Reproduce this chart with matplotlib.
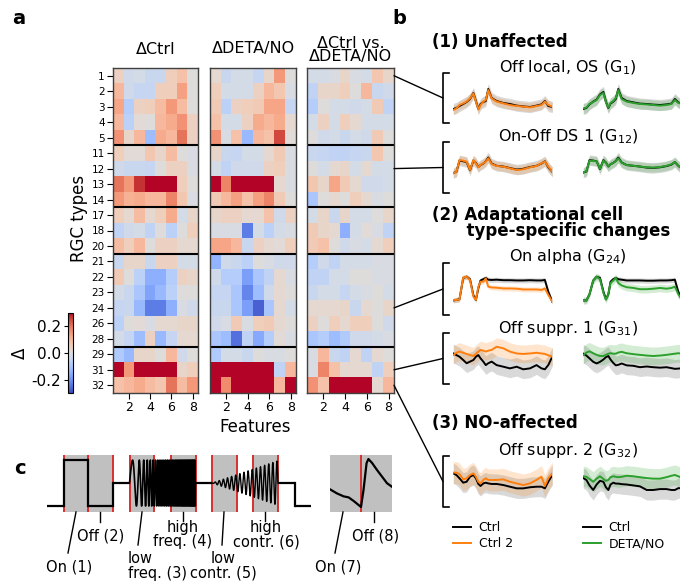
import numpy as np
import matplotlib
matplotlib.use('Agg')
import matplotlib.pyplot as plt
from matplotlib.patches import ConnectionPatch
from matplotlib.lines import Line2D

plt.rcParams['font.family'] = ['DejaVu Sans']
plt.rcParams['axes.unicode_minus'] = False

# ---------------- data: panel a ----------------
rgc_types = [1, 2, 3, 4, 5, 11, 12, 13, 14, 17, 18, 20, 21, 22, 23, 24, 26, 28, 29, 31, 32]
group_sizes = [5, 4, 3, 6, 3]
feature_ticks = [2, 4, 6, 8]
panel_titles = ['ΔCtrl', 'ΔDETA/NO', 'ΔCtrl vs.\nΔDETA/NO']

delta_ctrl = [
    [0.04, -0.03, -0.02, -0.04, -0.04, 0.05, 0.08, 0.00],
    [0.10, -0.03, -0.05, -0.05, 0.05, 0.05, 0.14, 0.00],
    [0.13, -0.08, 0.04, 0.05, 0.09, 0.15, 0.09, 0.00],
    [0.10, -0.07, 0.01, 0.00, 0.10, 0.12, 0.16, 0.04],
    [0.16, 0.03, 0.10, -0.12, 0.12, 0.10, 0.20, 0.04],
    [0.05, 0.01, 0.01, 0.07, 0.03, 0.09, 0.00, -0.01],
    [-0.03, -0.04, -0.04, -0.05, 0.00, 0.04, 0.04, -0.01],
    [0.20, 0.15, 0.27, 0.35, 0.35, 0.35, 0.05, 0.00],
    [0.15, 0.11, 0.12, 0.10, 0.10, 0.18, 0.07, -0.01],
    [0.05, 0.02, 0.09, 0.02, 0.05, 0.12, -0.02, 0.03],
    [-0.06, -0.03, -0.02, -0.06, 0.00, -0.07, 0.00, 0.05],
    [0.09, 0.05, 0.10, 0.00, 0.04, 0.04, 0.02, 0.02],
    [-0.04, 0.03, 0.03, -0.04, 0.04, 0.04, -0.02, -0.02],
    [0.06, 0.00, -0.07, -0.15, -0.15, -0.08, 0.04, 0.03],
    [-0.02, -0.04, -0.10, -0.17, -0.13, -0.07, 0.00, 0.00],
    [-0.05, -0.04, -0.13, -0.23, -0.23, -0.15, -0.01, -0.03],
    [-0.07, 0.00, 0.01, -0.01, 0.02, 0.02, 0.03, 0.03],
    [-0.02, -0.05, -0.12, 0.04, -0.13, -0.05, 0.02, 0.02],
    [-0.09, -0.13, 0.03, 0.03, 0.00, 0.10, -0.03, 0.00],
    [0.35, 0.15, 0.35, 0.35, 0.35, 0.35, 0.03, 0.05],
    [0.08, 0.10, 0.12, 0.09, 0.07, 0.20, 0.09, 0.15],
]

delta_deta = [
    [0.02, -0.04, -0.02, -0.02, -0.05, 0.03, 0.15, 0.00],
    [0.05, -0.02, -0.02, -0.02, 0.04, 0.10, 0.07, -0.01],
    [0.06, -0.07, 0.04, 0.05, 0.06, 0.13, 0.13, -0.05],
    [0.08, -0.02, -0.02, 0.04, 0.12, 0.10, 0.12, 0.02],
    [0.16, -0.01, 0.08, -0.13, 0.10, 0.08, 0.25, 0.01],
    [0.03, -0.04, -0.05, -0.02, -0.02, 0.02, 0.06, -0.01],
    [-0.02, -0.06, -0.03, -0.03, -0.03, 0.04, 0.05, -0.01],
    [0.35, 0.18, 0.35, 0.35, 0.35, 0.35, 0.02, -0.01],
    [0.06, 0.10, 0.14, 0.08, 0.14, 0.18, 0.06, 0.00],
    [0.03, 0.04, 0.04, 0.02, 0.02, 0.08, -0.03, 0.04],
    [-0.01, -0.01, -0.01, -0.23, -0.02, -0.07, -0.02, -0.01],
    [0.13, 0.13, 0.10, -0.04, 0.04, 0.02, 0.01, 0.05],
    [-0.14, -0.03, -0.04, -0.07, 0.00, -0.01, -0.03, -0.03],
    [-0.03, -0.08, -0.08, -0.18, -0.10, -0.06, 0.02, -0.01],
    [-0.05, -0.05, -0.10, -0.22, -0.12, -0.03, 0.02, 0.00],
    [-0.04, -0.04, -0.10, -0.18, -0.27, -0.10, 0.02, -0.02],
    [-0.03, -0.01, 0.06, -0.01, 0.05, 0.06, 0.02, 0.00],
    [-0.10, -0.12, -0.25, -0.06, -0.16, -0.08, 0.01, -0.01],
    [-0.09, -0.02, -0.02, -0.04, 0.00, -0.01, -0.01, 0.00],
    [0.30, 0.35, 0.35, 0.35, 0.35, 0.35, -0.06, 0.10],
    [0.30, 0.17, 0.35, 0.35, 0.35, 0.35, 0.10, 0.35],
]

delta_diff = [
    [-0.02, -0.02, -0.01, 0.03, -0.01, -0.02, 0.07, 0.03],
    [-0.06, 0.03, 0.03, 0.05, 0.00, 0.10, -0.04, -0.03],
    [-0.08, 0.00, -0.02, -0.02, -0.03, -0.02, 0.06, -0.06],
    [-0.02, 0.04, -0.02, 0.05, 0.02, -0.02, -0.02, -0.02],
    [0.00, -0.03, -0.02, -0.04, -0.02, -0.03, 0.06, 0.00],
    [-0.04, -0.05, -0.06, -0.06, -0.05, -0.04, 0.07, 0.00],
    [0.00, -0.02, 0.02, 0.03, -0.02, 0.02, -0.02, -0.02],
    [0.07, 0.03, 0.13, 0.06, 0.02, -0.03, -0.03, -0.02],
    [-0.10, 0.00, 0.02, 0.00, 0.05, 0.02, -0.01, 0.00],
    [-0.02, 0.03, -0.04, 0.03, -0.02, -0.02, 0.00, 0.03],
    [0.06, 0.03, 0.02, -0.15, -0.02, 0.01, -0.01, -0.06],
    [0.06, 0.08, 0.00, -0.03, -0.01, -0.02, 0.02, 0.05],
    [-0.08, -0.03, -0.06, -0.02, -0.02, -0.02, -0.01, -0.01],
    [-0.06, -0.06, -0.02, -0.02, 0.00, 0.00, -0.01, -0.01],
    [-0.04, -0.02, -0.02, -0.05, -0.02, -0.01, 0.00, -0.02],
    [0.02, 0.02, 0.02, 0.03, -0.04, 0.02, 0.00, 0.03],
    [0.04, 0.00, 0.05, 0.02, 0.05, 0.05, 0.00, -0.03],
    [-0.10, -0.08, -0.12, -0.09, -0.03, -0.03, -0.02, -0.01],
    [-0.01, 0.10, -0.04, -0.06, 0.02, -0.06, 0.02, 0.00],
    [-0.01, 0.18, 0.08, 0.02, 0.02, 0.02, -0.06, 0.05],
    [0.16, 0.08, 0.35, 0.35, 0.35, 0.35, 0.02, 0.10],
]

# ---------------- data: panel b (normalized responses) ----------------
t_trace = [0, 1, 2, 3.2, 4.3, 5.4, 6.5, 7.3, 8.1, 8.8, 9.7, 10.5, 11.3, 12.4, 14,
           16.2, 18.3, 20.5, 22.6, 24.8, 26.9, 28.5, 29.6, 30.7, 32]

g1_ctrl_a = [0.05, 0.10, 0.20, 0.30, 0.40, 0.55, 0.85, 0.45, 0.05, 0.30, 0.40, 0.45, 1.05, 0.60, 0.45,
             0.35, 0.30, 0.22, 0.18, 0.15, 0.22, 0.28, 0.45, 0.20, 0.15]
g1_ctrl2 = [0.00, 0.08, 0.25, 0.33, 0.42, 0.58, 0.83, 0.42, 0.03, 0.25, 0.42, 0.50, 1.00, 0.58, 0.42,
            0.33, 0.25, 0.20, 0.17, 0.13, 0.20, 0.25, 0.42, 0.25, 0.17]
g1_ctrl_b = [0.05, 0.10, 0.28, 0.42, 0.52, 0.78, 0.90, 0.42, 0.10, 0.32, 0.42, 0.55, 1.05, 0.60, 0.45,
             0.38, 0.32, 0.30, 0.27, 0.25, 0.28, 0.32, 0.55, 0.38, 0.30]
g1_deta = [0.08, 0.12, 0.30, 0.40, 0.50, 0.75, 0.85, 0.40, 0.12, 0.35, 0.45, 0.60, 1.00, 0.55, 0.42,
           0.35, 0.30, 0.28, 0.25, 0.22, 0.25, 0.30, 0.50, 0.35, 0.30]

g12_ctrl_a = [0.02, 0.10, 0.85, 0.80, 0.75, 0.20, 0.85, 0.70, 0.42, 0.55, 0.65, 0.80, 1.05, 0.65, 0.50,
              0.45, 0.35, 0.25, 0.30, 0.42, 0.50, 0.65, 0.80, 0.40, 0.10]
g12_ctrl2 = [0.00, 0.11, 0.89, 0.84, 0.78, 0.22, 0.89, 0.67, 0.40, 0.56, 0.67, 0.78, 1.00, 0.62, 0.49,
             0.44, 0.33, 0.22, 0.27, 0.40, 0.49, 0.67, 0.78, 0.44, 0.11]
g12_ctrl_b = [0.05, 0.12, 0.88, 0.85, 0.80, 0.28, 0.88, 0.72, 0.45, 0.60, 0.70, 0.82, 1.05, 0.72, 0.55,
              0.50, 0.45, 0.38, 0.36, 0.40, 0.48, 0.58, 0.75, 0.50, 0.30]
g12_deta = [0.05, 0.15, 0.85, 0.82, 0.80, 0.30, 0.85, 0.70, 0.45, 0.60, 0.70, 0.80, 1.00, 0.70, 0.55,
            0.50, 0.45, 0.40, 0.38, 0.42, 0.50, 0.60, 0.75, 0.50, 0.30]

g24_ctrl_a = [0.05, 0.07, 0.10, 0.95, 1.00, 0.90, 0.25, 0.07, 0.55, 0.85, 0.90, 0.95, 0.88, 0.87, 0.88,
              0.86, 0.86, 0.85, 0.85, 0.86, 0.85, 0.85, 0.87, 0.40, 0.00]
g24_ctrl2 = [0.07, 0.07, 0.09, 0.97, 1.00, 0.87, 0.20, 0.07, 0.60, 0.80, 0.80, 0.93, 0.60, 0.57, 0.56,
             0.53, 0.53, 0.52, 0.49, 0.49, 0.49, 0.47, 0.53, 0.27, 0.00]
g24_ctrl_b = [0.05, 0.05, 0.30, 0.85, 1.00, 0.95, 0.40, 0.10, 0.30, 0.80, 0.90, 0.95, 0.90, 0.88, 0.85,
              0.85, 0.85, 0.84, 0.84, 0.85, 0.85, 0.86, 0.88, 0.40, 0.05]
g24_deta = [0.05, 0.05, 0.30, 0.85, 1.00, 0.90, 0.35, 0.08, 0.30, 0.75, 0.85, 0.95, 0.75, 0.65, 0.58,
            0.55, 0.50, 0.50, 0.52, 0.55, 0.52, 0.55, 0.60, 0.30, 0.05]

g31_ctrl_a = [0.71, 0.64, 0.57, 0.43, 0.29, 0.36, 0.43, 0.57, 0.64, 0.50, 0.36, 0.21, 0.29, 0.36, 0.21,
              0.14, 0.07, 0.14, 0.03, 0.07, 0.21, 0.07, 0.03, 0.21, 0.57]
g31_ctrl2 = [0.64, 0.74, 0.79, 0.74, 0.69, 0.64, 0.60, 0.69, 0.79, 0.86, 0.83, 0.79, 0.83, 0.86, 1.00,
             0.93, 0.79, 0.71, 0.69, 0.71, 0.74, 0.71, 0.69, 0.63, 0.57]
g31_ctrl_b = [0.70, 0.62, 0.50, 0.35, 0.28, 0.35, 0.45, 0.55, 0.60, 0.45, 0.30, 0.20, 0.22, 0.28, 0.20,
              0.18, 0.12, 0.15, 0.12, 0.10, 0.12, 0.08, 0.05, 0.06, 0.08]
g31_deta = [0.64, 0.75, 0.80, 0.72, 0.65, 0.60, 0.60, 0.65, 0.70, 0.72, 0.70, 0.70, 0.75, 0.78, 0.72,
            0.68, 0.65, 0.62, 0.60, 0.62, 0.65, 0.68, 0.70, 0.72, 0.70]

g32_ctrl_a = [0.91, 0.82, 0.64, 0.40, 0.45, 0.73, 0.82, 0.64, 0.33, 0.22, 0.36, 0.40, 0.36, 0.33, 0.33,
              0.27, 0.18, 0.09, 0.09, 0.15, 0.18, 0.18, 0.09, 0.45, 0.82]
g32_ctrl2 = [0.95, 0.95, 0.87, 0.58, 0.64, 0.82, 0.91, 0.73, 0.45, 0.36, 0.55, 0.64, 0.55, 0.55, 0.55,
             0.58, 0.45, 0.36, 0.27, 0.36, 0.55, 0.73, 0.22, 0.64, 0.91]
g32_ctrl_b = [0.65, 0.55, 0.25, 0.00, 0.30, 0.50, 0.45, 0.15, 0.00, 0.30, 0.40, 0.35, 0.35, 0.32, 0.30,
              0.25, 0.20, 0.00, 0.00, 0.05, 0.05, 0.00, 0.00, 0.10, 0.10]
g32_deta = [0.75, 0.72, 0.60, 0.45, 0.62, 0.75, 0.60, 0.50, 0.55, 0.70, 0.75, 0.72, 0.70, 0.72, 0.78,
            0.75, 0.70, 0.65, 0.62, 0.62, 0.70, 0.78, 0.82, 0.75, 0.65]

# spread (shaded band half-width) per trace: [ctrl_a, ctrl2, ctrl_b, deta]
g1_sd = [0.28, 0.22, 0.28, 0.25]
g12_sd = [0.35, 0.30, 0.35, 0.30]
g24_sd = [0.10, 0.10, 0.10, 0.15]
g31_sd = [0.40, 0.38, 0.40, 0.38]
g32_sd = [0.55, 0.60, 0.55, 0.55]

cell_titles = ['Off local, OS (G$_{1}$)', 'On-Off DS 1 (G$_{12}$)', 'On alpha (G$_{24}$)',
               'Off suppr. 1 (G$_{31}$)', 'Off suppr. 2 (G$_{32}$)']
cell_types_b = [1, 12, 24, 31, 32]

# ---------------- data: panel c ----------------
# chirp stimulus protocol: (start, end, level) for constant segments
stim_segments = [(0, 2, 0.0), (2, 5, 1.0), (5, 8, 0.0), (8, 10, 0.5),
                 (18, 20, 0.5), (28, 30, 0.5), (30, 32, 0.0)]
freq_chirp = (10, 18, 0.5, 8.0)      # start, end, f_start (Hz), f_end (Hz)
contrast_chirp = (20, 28, 2.0, 0.97)  # start, end, freq (Hz), final amplitude
feature_windows = [(2, 5), (5, 8), (10, 13), (15, 18), (20, 23), (25, 28)]
step_resp_t = [0, 0.11, 0.22, 0.30, 0.38, 0.50, 0.54, 0.59, 0.62, 0.68, 0.76, 0.84, 0.92, 1.0]
step_resp_v = [0.45, 0.37, 0.31, 0.29, 0.22, 0.10, 0.43, 0.97, 1.05, 0.97, 0.83, 0.70, 0.57, 0.50]

# ---------------- figure ----------------
W, H = 680, 586
fig = plt.figure(figsize=(W / 100, H / 100), dpi=100)


def px_axes(x0, y0, x1, y1, **kw):
    return fig.add_axes([x0 / W, 1 - y1 / H, (x1 - x0) / W, (y1 - y0) / H], **kw)


def ftext(x, y, s, **kw):
    kw.setdefault('ha', 'center')
    kw.setdefault('va', 'center')
    return fig.text(x / W, 1 - y / H, s, **kw)


def fline(xs, ys, **kw):
    kw.setdefault('color', 'k')
    kw.setdefault('lw', 1.0)
    fig.add_artist(Line2D([x / W for x in xs], [1 - y / H for y in ys], **kw))


# ---- panel a ----
heat_x = [(113, 198), (210, 296), (307, 394)]
heat_y = (68, 393)
bounds = np.cumsum(group_sizes)[:-1] - 0.5
heat_axes = []
for k, data in enumerate([delta_ctrl, delta_deta, delta_diff]):
    ax = px_axes(heat_x[k][0], heat_y[0], heat_x[k][1], heat_y[1])
    im = ax.imshow(np.array(data), cmap='coolwarm', vmin=-0.3, vmax=0.3,
                   aspect='auto', interpolation='nearest')
    for b in bounds:
        ax.axhline(b, color='k', lw=1.5)
    ax.set_xticks([f - 1 for f in feature_ticks])
    ax.set_xticklabels([str(f) for f in feature_ticks], fontsize=9)
    if k == 0:
        ax.set_yticks(range(len(rgc_types)))
        ax.set_yticklabels([str(r) for r in rgc_types], fontsize=7.5)
        ax.tick_params(axis='y', length=4, pad=2)
    else:
        ax.set_yticks([])
    ax.tick_params(axis='x', length=4, pad=2)
    for sp in ax.spines.values():
        sp.set_color('#404040')
        sp.set_linewidth(1.0)
    heat_axes.append(ax)

ftext(155.5, 49, panel_titles[0], fontsize=11.5)
ftext(253, 49, panel_titles[1], fontsize=11.5)
ftext(350.5, 50, panel_titles[2], fontsize=11.5, linespacing=0.9)
ftext(79, 218, 'RGC types', fontsize=12, rotation=90)
ftext(255, 427, 'Features', fontsize=12)

cax = px_axes(68, 313, 73, 393)
cb = fig.colorbar(im, cax=cax, ticks=[-0.2, 0.0, 0.2])
cax.yaxis.set_ticks_position('left')
cax.yaxis.set_label_position('left')
cb.ax.set_yticklabels(['-0.2', '0.0', '0.2'], fontsize=11)
cb.ax.tick_params(length=3, pad=2)
cb.set_label('Δ', fontsize=12, labelpad=2)
cb.outline.set_linewidth(0.8)

# ---- panel b ----
row_px = [(110, 90), (173.3, 158.3), (301.7, 276.7), (370, 346.7), (490, 471.7)]
brackets = [(73, 123), (142, 193), (263, 315), (333, 384), (456, 507)]
title_y = [67.5, 137, 257, 329, 451]
traces = [
    (g1_ctrl_a, g1_ctrl2, g1_ctrl_b, g1_deta, g1_sd),
    (g12_ctrl_a, g12_ctrl2, g12_ctrl_b, g12_deta, g12_sd),
    (g24_ctrl_a, g24_ctrl2, g24_ctrl_b, g24_deta, g24_sd),
    (g31_ctrl_a, g31_ctrl2, g31_ctrl_b, g31_deta, g31_sd),
    (g32_ctrl_a, g32_ctrl2, g32_ctrl_b, g32_deta, g32_sd),
]
ORANGE, GREEN = '#ff7f0e', '#2ca02c'
tt = np.array(t_trace)
legend_handles = {}
for i, (ca, c2, cbk, dn, sd) in enumerate(traces):
    y0, y1 = row_px[i]
    sc = y0 - y1
    for side, (ctrl, trt, sdc, sdt, col, xl) in enumerate([
            (ca, c2, sd[0], sd[1], ORANGE, 453.3),
            (cbk, dn, sd[2], sd[3], GREEN, 583.3)]):
        ax = px_axes(xl, y1 - sc, xl + 99, y0 + sc)
        ax.set_xlim(0, 32)
        ax.set_ylim(-1, 2)
        ax.axis('off')
        c = np.array(ctrl)
        tr = np.array(trt)
        ax.fill_between(tt, c - sdc, c + sdc, color='k', alpha=0.15, lw=0)
        ax.fill_between(tt, tr - sdt, tr + sdt, color=col, alpha=0.2, lw=0)
        hc, = ax.plot(tt, c, color='k', lw=1.4)
        ht, = ax.plot(tt, tr, color=col, lw=1.4)
        if i == 4:
            legend_handles[side] = (hc, ht)
    # bracket
    bt, bb = brackets[i]
    fline([449, 443, 443, 449], [bt, bt, bb, bb], lw=1.2)
    ftext(568, title_y[i], cell_titles[i], fontsize=11.5)
    # connector
    ridx = rgc_types.index(cell_types_b[i])
    con = ConnectionPatch(xyA=(7.5, ridx), coordsA=heat_axes[2].transData,
                          xyB=(443 / W, 1 - (bt + bb) / 2 / H), coordsB='figure fraction',
                          color='k', lw=1.0)
    fig.add_artist(con)

ftext(432, 42, '(1) Unaffected', fontsize=12, fontweight='bold', ha='left')
ftext(432, 223, '(2) Adaptational cell\n      type-specific changes', fontsize=12,
      fontweight='bold', ha='left', multialignment='left', linespacing=0.8)
ftext(432, 423, '(3) NO-affected', fontsize=12, fontweight='bold', ha='left')

for side, (labs, xl) in enumerate([(['Ctrl', 'Ctrl 2'], 453), (['Ctrl', 'DETA/NO'], 583)]):
    fig.legend(legend_handles[side], labs, loc='upper left',
               bbox_to_anchor=(xl / W, 1 - 521 / H), frameon=False, fontsize=9,
               handlelength=1.4, handletextpad=0.65, borderpad=0, borderaxespad=0,
               labelspacing=0.25)

# ---- panel c ----
RED = '#d93030'
BOXGRAY = '#c0c0c0'
axc = px_axes(38.75, 455, 319.25, 512)
axc.set_xlim(-1, 33)
axc.set_ylim(-0.13, 1.11)
axc.axis('off')
for (a, b) in feature_windows:
    axc.axvspan(a, b, color=BOXGRAY, lw=0, zorder=0)
    axc.axvline(a, color=RED, lw=1.4, zorder=1)
    axc.axvline(b, color=RED, lw=1.4, zorder=1)
for (a, b, lev) in stim_segments:
    axc.plot([a, b], [lev, lev], color='k', lw=1.6, zorder=3, solid_capstyle='butt')
# vertical steps between constant segments
seg_edges = [(2, 0.0, 1.0), (5, 1.0, 0.0), (8, 0.0, 0.5), (30, 0.5, 0.0)]
for (x, a, b) in seg_edges:
    axc.plot([x, x], [a, b], color='k', lw=1.6, zorder=3)
fa, fb, f0, f1 = freq_chirp
tf = np.linspace(0, fb - fa, 6000)
phase = 2 * np.pi * (f0 * tf + (f1 - f0) / (2 * (fb - fa)) * tf ** 2)
axc.plot(fa + tf, 0.5 + 0.5 * np.sin(phase), color='k', lw=1.2, zorder=3)
ca_, cb_, fc, amp = contrast_chirp
tc = np.linspace(0, cb_ - ca_, 4000)
axc.plot(ca_ + tc, 0.5 - 0.5 * amp * (tc / (cb_ - ca_)) * np.sin(2 * np.pi * fc * tc),
         color='k', lw=1.0, zorder=3)

axr = px_axes(330, 455, 392, 512)
axr.set_facecolor(BOXGRAY)
axr.set_xlim(0, 1)
axr.set_ylim(0, 1.13)
axr.set_xticks([])
axr.set_yticks([])
for sp in axr.spines.values():
    sp.set_visible(False)
axr.axvline(0.5, color=RED, lw=1.4)
axr.plot(step_resp_t, step_resp_v, color='k', lw=1.6)

fs_c = 10.5
LS = 0.95
ftext(69, 567, 'On (1)', fontsize=fs_c)
fline([76, 68], [512, 553])
ftext(101, 536, 'Off (2)', fontsize=fs_c)
fline([100, 100], [512, 522])
ftext(128, 566, 'low\nfreq. (3)', fontsize=fs_c, ha='left', multialignment='left', linespacing=LS)
fline([142, 138], [512, 545])
ftext(183, 534.5, 'high\nfreq. (4)', fontsize=fs_c, multialignment='center', linespacing=LS)
fline([183, 183], [512, 521])
ftext(223, 566, 'low\ncontr. (5)', fontsize=fs_c, multialignment='center', linespacing=LS)
fline([224, 222], [512, 545])
ftext(266, 534.5, 'high\ncontr. (6)', fontsize=fs_c, multialignment='center', linespacing=LS)
fline([265, 265], [512, 521])
ftext(338, 567, 'On (7)', fontsize=fs_c)
fline([343, 335], [512, 553])
ftext(376, 536, 'Off (8)', fontsize=fs_c)
fline([374, 374], [512, 522])

# panel letters
ftext(19, 19, 'a', fontsize=14, fontweight='bold')
ftext(399, 18, 'b', fontsize=14, fontweight='bold')
ftext(20, 468, 'c', fontsize=14, fontweight='bold')

fig.savefig('out.png', dpi=100)
